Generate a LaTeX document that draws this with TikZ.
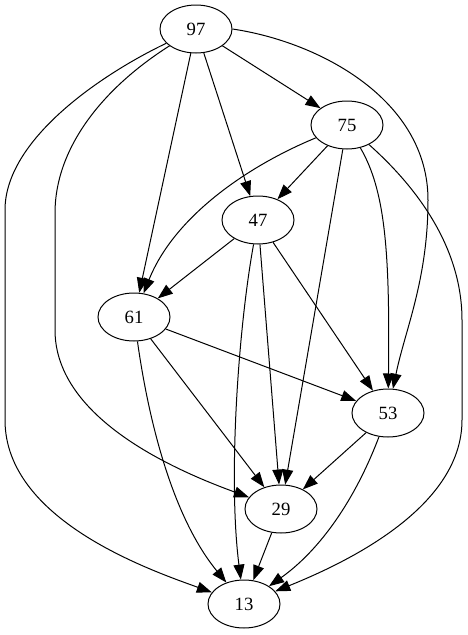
\documentclass[tikz,border=0pt]{standalone}
\usepackage{fontspec}
\setmainfont{Liberation Serif}
\usetikzlibrary{shapes.geometric,arrows.meta}
\tikzset{
  vert/.style={ellipse,draw,line width=1pt,minimum width=72pt,minimum height=48pt,inner sep=0pt,font=\fontsize{18.7}{22}\selectfont},
  edge/.style={line width=1pt,-{Triangle[length=15pt,width=11pt]}}
}
\begin{document}
\begin{tikzpicture}[x=1pt,y=-1pt]
\useasboundingbox (0,0) rectangle (467,635);
\node[vert] (97) at (196,29) {97};
\node[vert] (75) at (347,125) {75};
\node[vert] (47) at (258,220) {47};
\node[vert] (61) at (134,317) {61};
\node[vert] (53) at (388,413) {53};
\node[vert] (29) at (281,509) {29};
\node[vert] (13) at (244,604) {13};

\draw[edge] (97) -- (75);
\draw[edge] (97) -- (47);
\draw[edge] (97) -- (61);
\draw[edge] (97.east) .. controls (320,42) and (428,100) .. (428,200) .. controls (428,280) and (405,330) .. (53);
\draw[edge] (97) .. controls (100,90) and (55,150) .. (55,213) -- (55,330) .. controls (55,420) and (180,472) .. (29);
\draw[edge] (97) .. controls (100,75) and (5,140) .. (5,210) -- (5,420) .. controls (5,520) and (150,570) .. (13);
\draw[edge] (75) -- (47);
\draw[edge] (75) .. controls (250,165) and (175,215) .. (61);
\draw[edge] (75) -- (29);
\draw[edge] (75) .. controls (385,190) and (390,250) .. (53);
\draw[edge] (75) .. controls (420,190) and (462,250) .. (462,320) -- (462,420) .. controls (462,510) and (340,565) .. (13);
\draw[edge] (47) -- (61);
\draw[edge] (47) .. controls (238,330) and (228,480) .. (13);
\draw[edge] (47) -- (29);
\draw[edge] (47) -- (53);
\draw[edge] (61) -- (53);
\draw[edge] (61) -- (29);
\draw[edge] (61) .. controls (150,430) and (175,520) .. (13);
\draw[edge] (53) -- (29);
\draw[edge] (53) .. controls (355,500) and (320,550) .. (13);
\draw[edge] (29) -- (13);
\end{tikzpicture}
\end{document}
